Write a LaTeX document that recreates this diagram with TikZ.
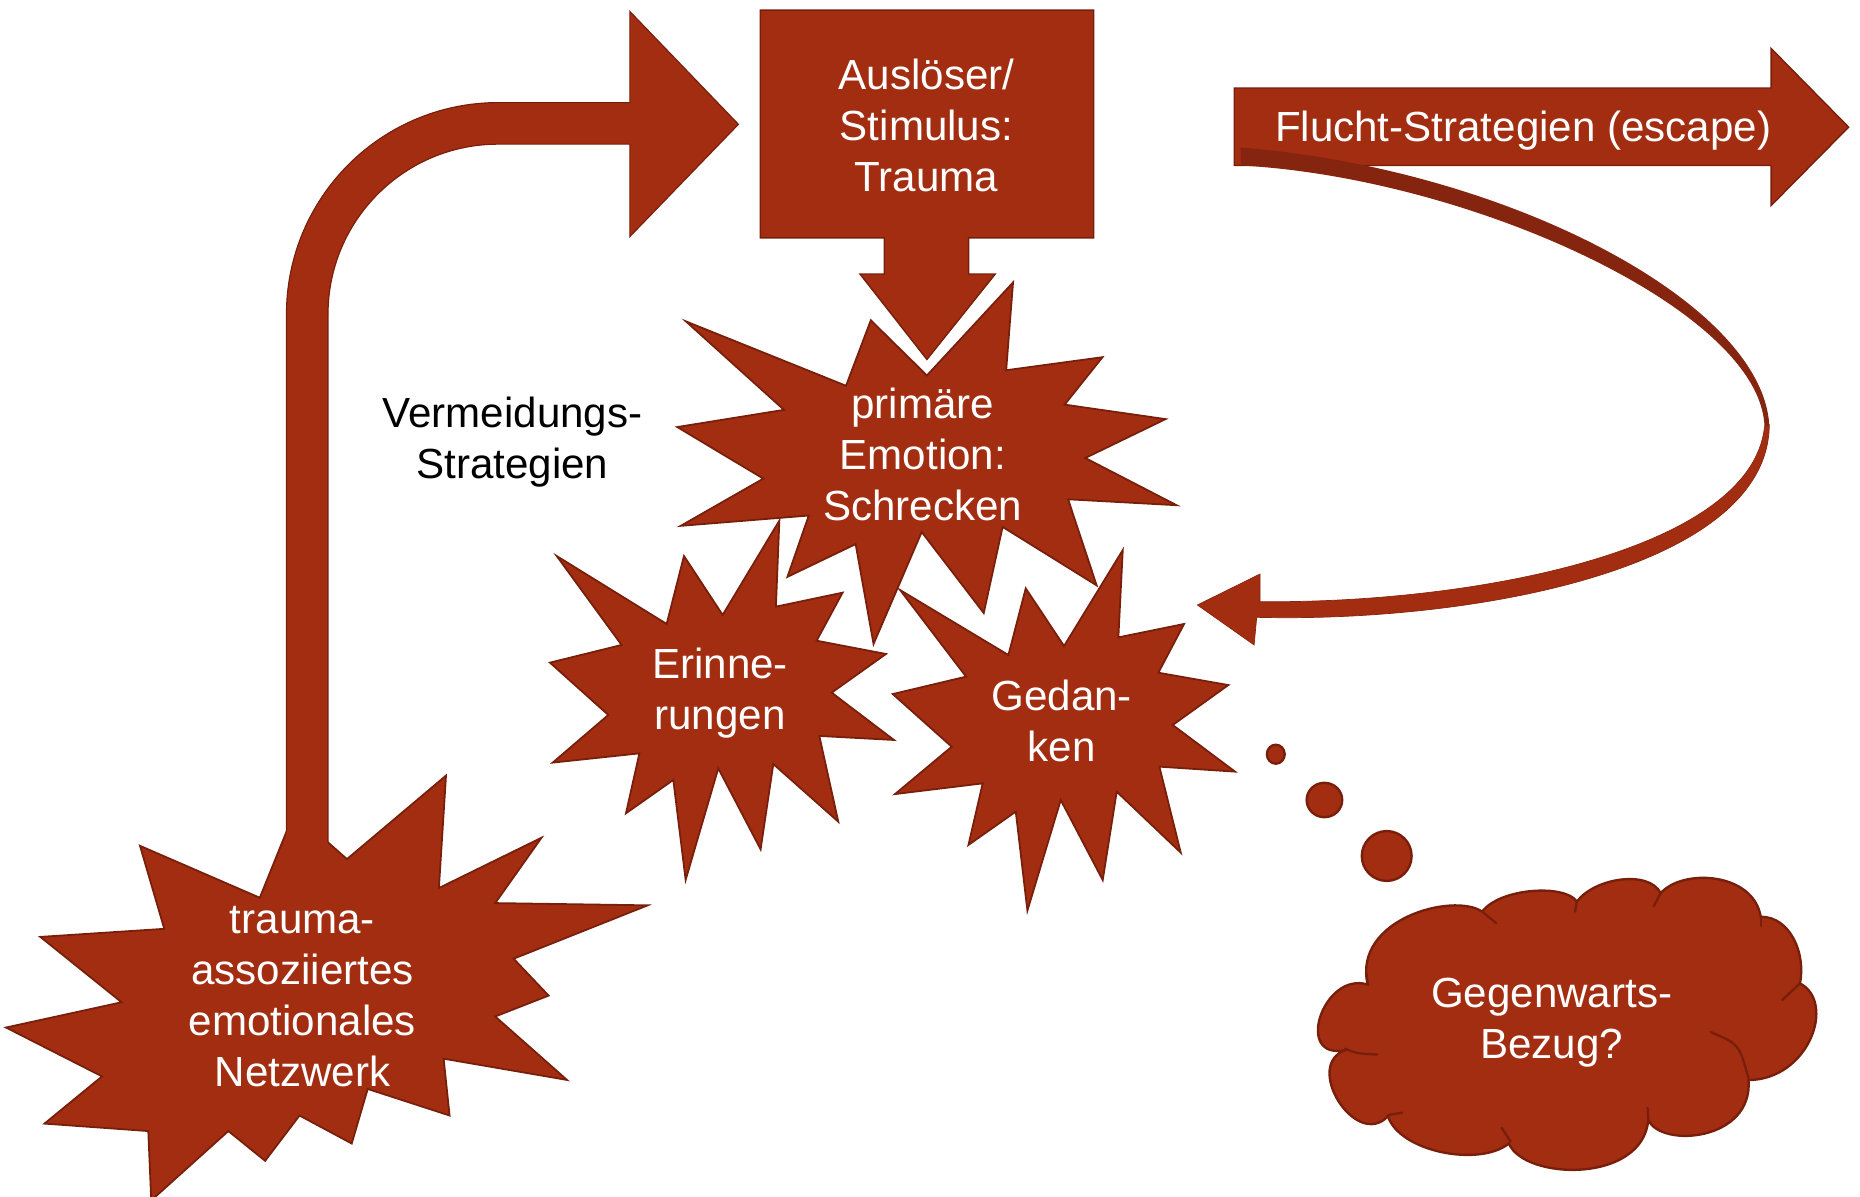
\documentclass[tikz,border=0pt]{standalone}
\usepackage{fontspec}
\setmainfont{Liberation Sans}
\definecolor{brick}{RGB}{163,45,17}
\definecolor{brickdark}{RGB}{120,31,12}
\definecolor{brickshade}{RGB}{133,36,15}
\tikzset{
  blast/.style={fill=brick, draw=brickdark, line width=1.5pt, line join=miter},
  solidarrow/.style={fill=brick, draw=brickdark, line width=1.2pt, line join=miter},
  puff/.style={fill=brick, draw=brickdark, line width=2pt},
  crease/.style={draw=brickdark, line width=2pt, line cap=round},
  whitetext/.style={text=white, font=\fontsize{35.5}{43}\selectfont, align=center, inner sep=0pt},
  blacktext/.style={text=black, font=\fontsize{35.5}{43}\selectfont, align=center, inner sep=0pt}
}
\begin{document}
\begin{tikzpicture}[x=1pt,y=-1pt]
\useasboundingbox (0,0) rectangle (1568,1009);

% trauma-associated emotional network (explosion)
\path[blast] (248,685) -- (292.5,724.2) -- (376,653.8) -- (370,748.6) -- (456.5,706.2)
  -- (417.5,761.3) -- (546,763.2) -- (433,808.2) -- (462.5,839.3) -- (417.5,856.9)
  -- (478,910.4) -- (374,892.5) -- (379,940.4) -- (310,918) -- (296.5,964)
  -- (252.5,940.4) -- (223.5,978.6) -- (192.5,953.5) -- (127.5,1012) -- (125,953.5)
  -- (37.5,947.2) -- (86,907.4) -- (5,866.2) -- (102.5,844.9) -- (34,789.8)
  -- (138.5,783) -- (118,713) -- (219,756.8) -- cycle;

% avoidance path: bent arrow rising out of the network
\fill[brick] (241.5,716) -- (241.5,265) arc[start angle=180,end angle=270,radius=178.5]
  -- (531,86.5) -- (531,9.7) -- (622.5,104.8) -- (531,199.4) -- (531,121.5)
  -- (420,121.5) arc[start angle=270,end angle=180,radius=143.5] -- (276.5,716) -- cycle;
\draw[brickdark, line width=1pt, line join=miter] (241.5,701) -- (241.5,265)
  arc[start angle=180,end angle=270,radius=178.5]
  -- (531,86.5) -- (531,9.7) -- (622.5,104.8) -- (531,199.4) -- (531,121.5)
  -- (420,121.5) arc[start angle=270,end angle=180,radius=143.5] -- (276.5,710);

% memories
\path[blast] (469.3,468.7) -- (562.0,526.0) -- (576.6,468.7) -- (609.2,518.4) -- (657.0,438.9)
  -- (654.1,511.4) -- (710.3,499.6) -- (688.4,540.1) -- (746.9,551.3) -- (701.1,583.9)
  -- (753.6,623.8) -- (690.7,620.4) -- (706.7,692.7) -- (651.9,644.1) -- (641.2,716.0)
  -- (605.5,647.7) -- (578.0,741.8) -- (567.6,657.5) -- (527.7,685.6) -- (539.0,635.1)
  -- (465.9,642.9) -- (512.8,602.7) -- (463.6,558.6) -- (524.0,543.7) -- cycle;

% thoughts
\path[blast] (758.8,497.4) -- (850.1,552.2) -- (864.7,496.0) -- (897.0,544.6) -- (946.5,463.7)
  -- (942.8,537.3) -- (998.2,526.0) -- (976.5,567.1) -- (1035.5,577.5) -- (988.6,611.2)
  -- (1041.2,650.5) -- (977.4,646.3) -- (995.4,718.8) -- (941.4,667.4) -- (929.6,741.9)
  -- (894.2,674.4) -- (866.1,767.7) -- (856.3,684.2) -- (816.4,712.3) -- (828.4,660.4)
  -- (754.5,669.4) -- (802.3,629.5) -- (752.6,585.1) -- (814.4,570.4) -- cycle;

% primary emotion
\path[blast] (578.2,270.9) -- (713.2,325.2) -- (734.1,270.0) -- (781.4,316.5) -- (854.0,238.1)
  -- (848.2,312.1) -- (929.4,301.1) -- (897.5,341.1) -- (982.6,353.3) -- (914.9,386.1)
  -- (991.9,425.9) -- (900.4,420.9) -- (924.5,493.5) -- (845.2,444.2) -- (829.3,516.8)
  -- (777.0,448.5) -- (736.4,542.9) -- (721.3,458.7) -- (663.8,486.3) -- (681.8,434.6)
  -- (573.8,443.3) -- (643.5,403.5) -- (570.9,360.0) -- (660.9,345.5) -- cycle;

% trigger box with its downward arrow
\path[solidarrow] (641,8.5) -- (922,8.5) -- (922,200.5) -- (816.6,200.5) -- (816.6,231)
  -- (839,231) -- (781.4,303) -- (725,231) -- (745.5,231) -- (745.5,200.5)
  -- (641,200.5) -- cycle;

% escape arrow
\path[solidarrow] (1040.5,74.2) -- (1493,74.2) -- (1493,40.8) -- (1558.4,107.2)
  -- (1493,173.3) -- (1493,139.5) -- (1040.5,139.5) -- cycle;

% loop back from the escape arrow: shaded upper ribbon
\fill[brickshade] (1045.7,124.4) .. controls (1270,142) and (1485,255) .. (1491.5,358)
  -- (1487.5,360) .. controls (1485,262) and (1240,150) .. (1046,139.5) -- cycle;
% lower ribbon with its head
\path[fill=brick, draw=brick!85!black, line width=0.6pt, line join=miter]
  (1491.5,358) .. controls (1491,480) and (1240,525) .. (1059.4,520.4)
  -- (1057.2,543.7) -- (1009.4,510) -- (1062.2,483.9) -- (1062.2,507.2)
  .. controls (1240,509) and (1476,465) .. (1487.5,360) -- cycle;

% thought bubbles
\path[puff] (1075.5,635.8) ellipse[x radius=7.5, y radius=8];
\path[puff] (1116.5,674.4) ellipse[x radius=15, y radius=14.5];
\path[puff] (1169,721.6) circle[radius=21];

% cloud
\path[puff] (1153,830) .. controls (1115.3,818.3) and (1090.1,895.3) .. (1135,885)
  .. controls (1097.5,896.9) and (1143,969.7) .. (1170,941)
  .. controls (1180,971) and (1247,984) .. (1272,964)
  .. controls (1285,995) and (1385,998) .. (1389.5,944)
  .. controls (1400,968) and (1478,962) .. (1474,910.5)
  .. controls (1525,910) and (1548,845) .. (1517.4,829)
  .. controls (1522.4,803.9) and (1509.3,772.8) .. (1484.3,772.8)
  .. controls (1478,735) and (1418,732) .. (1400,753)
  .. controls (1390,733) and (1344.3,740) .. (1329.3,760)
  .. controls (1319.3,745.1) and (1264.5,748.5) .. (1249.5,768.5)
  .. controls (1225,752) and (1140,775) .. (1153,830) -- cycle;
% inner folds of the cloud
\path[crease] (1134,884) .. controls (1143,888) .. (1161,889);
\path[crease] (1170,940) -- (1182,938);
\path[crease] (1273.5,962.4) -- (1266,951);
\path[crease] (1389.5,944) -- (1389,934);
\path[crease] (1442,870) .. controls (1466,880) .. (1474,909);
\path[crease] (1517.4,829) -- (1502.4,843);
\path[crease] (1484.3,772.8) -- (1484.3,780.5);
\path[crease] (1400,753) -- (1394,764);
\path[crease] (1329.3,760) -- (1327.8,768.5);
\path[crease] (1249.5,768.5) -- (1261.5,778.4);
\path[crease] (1153,830) -- (1152,821);

% labels
\node[whitetext] (trigger) at (781,106) {Auslöser/\\Stimulus:\\Trauma};
\node[whitetext] (fear) at (778,383) {primäre\\Emotion:\\Schrecken};
\node[whitetext] (memories) at (607,584) {Erinne-\\rungen};
\node[whitetext] (thoughts) at (895,608) {Gedan-\\ken};
\node[whitetext] (network) at (255,840) {trauma-\\assoziiertes\\emotionales\\Netzwerk};
\node[blacktext] (avoid) at (432,373) {Vermeidungs-\\Strategien};
\node[whitetext] (escape) at (1284,110) {Flucht-Strategien (escape)};
\node[whitetext] (present) at (1308,862) {Gegenwarts-\\Bezug?};
\end{tikzpicture}
\end{document}
